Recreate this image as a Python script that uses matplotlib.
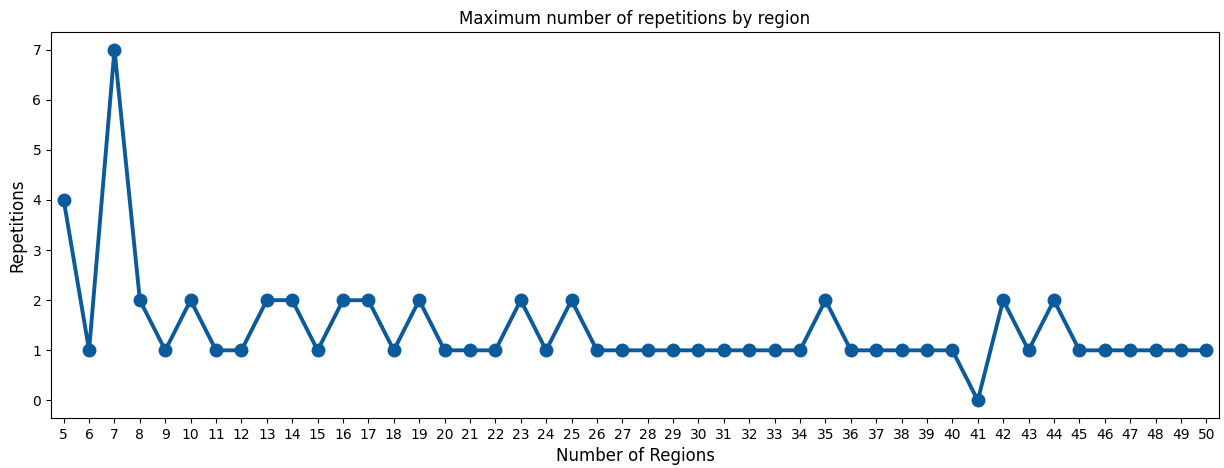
import matplotlib
matplotlib.use("Agg")
import matplotlib.pyplot as plt

regions = list(range(5, 51))
repetitions = [4, 1, 7, 2, 1, 2, 1, 1, 2, 2, 1, 2, 2, 1, 2, 1, 1, 1, 2, 1,
               2, 1, 1, 1, 1, 1, 1, 1, 1, 1, 2, 1, 1, 1, 1, 1, 0, 2, 1, 2,
               1, 1, 1, 1, 1, 1]

color = "#0b5a9c"

fig = plt.figure(figsize=(12.24, 4.68), dpi=100)
ax = fig.add_axes([51 / 1224, 1 - 418 / 468, (1219 - 51) / 1224, (418 - 32) / 468])

pos = list(range(len(regions)))
ax.plot(pos, repetitions, color=color, linewidth=2.8, marker="o", markersize=9)
ax.set_xticks(pos)
ax.set_xticklabels([str(r) for r in regions], fontsize=10)
ax.set_xlim(-0.5, len(regions) - 0.5)
ax.set_ylim(-0.35, 7.35)
ax.tick_params(axis="y", labelsize=10)
ax.set_title("Maximum number of repetitions by region", fontsize=12)
ax.set_xlabel("Number of Regions", fontsize=12)
ax.set_ylabel("Repetitions", fontsize=12)

fig.savefig("out.png", dpi=100)
